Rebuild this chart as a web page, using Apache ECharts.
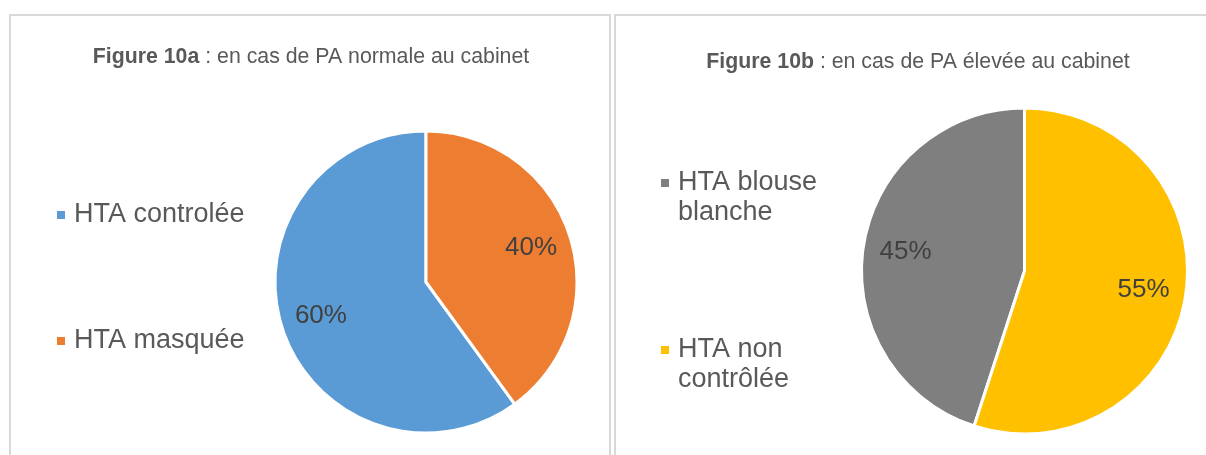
<!DOCTYPE html>
<html>
<head>
<meta charset="utf-8">
<script src="https://cdn.jsdelivr.net/npm/echarts@6/dist/echarts.min.js"></script>
<style>
  html, body { margin: 0; padding: 0; background: #fff; }
  #chart { width: 1206px; height: 455px; }
</style>
</head>
<body>
<div id="chart"></div>
<script>
// figure 10a
const namesA = ['HTA controlée', 'HTA masquée']
const valuesA = [60, 40]
const colorsA = ['#5B9BD5', '#ED7D31']
// figure 10b
const namesB = ['HTA blouse blanche', 'HTA non contrôlée']
const valuesB = [45, 55]
const colorsB = ['#7F7F7F', '#FFC000']

const font = 'Liberation Sans, Arial, sans-serif'
const txt = '#595959'

const toData = (names, values, colors) =>
    names.map((n, i) => colors
        ? { name: n, value: values[i], itemStyle: { color: colors[i] } }
        : { name: n, value: values[i] })

const chart = echarts.init(document.getElementById('chart'))

function pie (center, radius, start, data, withLabel) {
    return {
        type: 'pie',
        center: center,
        radius: radius,
        startAngle: start,
        clockwise: true,
        avoidLabelOverlap: false,
        silent: withLabel,
        data: data,
        itemStyle: withLabel
            ? { color: 'rgba(0,0,0,0)', borderWidth: 0 }
            : { borderColor: '#fff', borderWidth: 3 },
        label: withLabel
            ? {
                show: true,
                position: 'inside',
                formatter: '{d}%',
                color: '#404040',
                fontSize: 26,
                fontFamily: font
            }
            : { show: false },
        labelLine: { show: false },
        emphasis: { disabled: true }
    }
}

function titleText (x, y, text) {
    return {
        text: text,
        left: x,
        top: y,
        textAlign: 'center',
        padding: 0,
        textStyle: {
            fontSize: 21.3,
            fontWeight: 'normal',
            color: txt,
            fontFamily: font,
            rich: { b: { fontSize: 21.3, fontWeight: 'bold', color: txt, fontFamily: font } }
        }
    }
}

const option = {
    animation: false,
    graphic: [
        { type: 'rect', shape: { x: 10, y: 15, width: 600, height: 460 }, style: { fill: 'none', stroke: '#d9d9d9', lineWidth: 2 } },
        { type: 'rect', shape: { x: 615, y: 15, width: 620, height: 460 }, style: { fill: 'none', stroke: '#d9d9d9', lineWidth: 2 } }
    ],
    title: [
        titleText(311, 47, '{b|Figure 10a} : en cas de PA normale au cabinet'),
        titleText(918, 52, '{b|Figure 10b} : en cas de PA élevée au cabinet')
    ],
    legend: [
        {
            data: namesA,
            orient: 'vertical',
            left: 55,
            top: 200,
            padding: 0,
            itemGap: 96,
            itemWidth: 10,
            itemHeight: 10,
            icon: 'rect',
            selectedMode: false,
            textStyle: { fontSize: 27, lineHeight: 30, color: txt, fontFamily: font, padding: [0, 0, 0, 3] }
        },
        {
            data: namesB,
            orient: 'vertical',
            left: 659,
            top: 138,
            padding: 0,
            itemGap: 77,
            itemWidth: 10,
            itemHeight: 10,
            icon: 'rect',
            selectedMode: false,
            formatter: name => '\n' + name,
            textStyle: { fontSize: 27, lineHeight: 30, color: txt, fontFamily: font, width: 150, overflow: 'break', padding: [0, 0, 0, 3] }
        }
    ],
    series: [
        pie([426, 282], 151, -54, toData(namesA, valuesA, colorsA), false),
        pie([1024.5, 271], 163, -108, toData(namesB, valuesB, colorsB), false),
        pie([426, 282], [64, 151], -54, toData(namesA, valuesA), true),
        pie([1024.5, 271], [72, 163], -108, toData(namesB, valuesB), true)
    ]
}

chart.setOption(option)
</script>
</body>
</html>
